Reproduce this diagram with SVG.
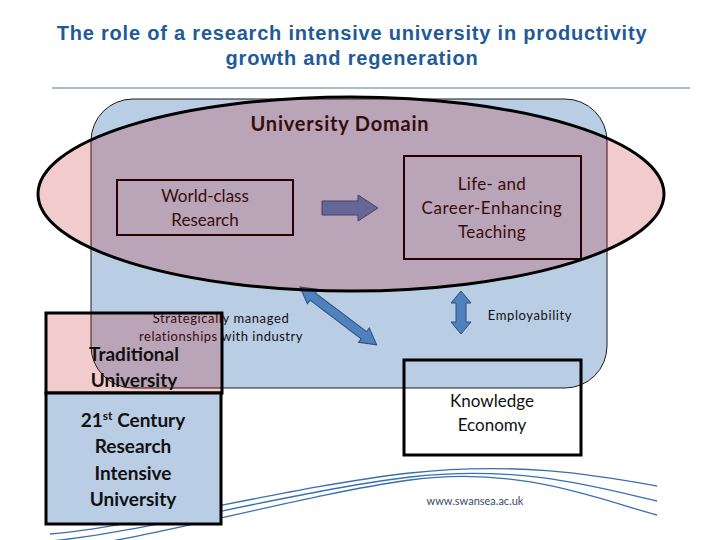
<svg xmlns="http://www.w3.org/2000/svg" width="720" height="540" viewBox="0 0 720 540">
<defs>
<style>
.title{font-family:"Liberation Sans",Arial,sans-serif;font-size:20px;font-weight:bold;letter-spacing:0.8px;fill:#1f5a99;text-anchor:middle}
.body{font-family:Lato,"Noto Sans",sans-serif;fill:#111;text-anchor:middle}
.box{fill:none;stroke:#000;stroke-width:2}
.thick{stroke:#000;stroke-width:3}
.arrow{fill:#4f81bd;stroke:#2f4f7a;stroke-width:1}
.swoosh{fill:none;stroke:#3a6fb0;stroke-width:1.3}
</style>
</defs>
<rect width="720" height="540" fill="#fff"/>
<g id="title">
<text class="title" x="352" y="40">The role of a research intensive university in productivity</text>
<text class="title" x="352" y="65">growth and regeneration</text>
<line x1="52" y1="88" x2="690" y2="88" stroke="#5a7a9a" stroke-width="1"/>
</g>
<g id="swoosh">
<path class="swoosh" d="M50,534 C130,528 300,485 410,473 S600,476 657,486"/>
<path class="swoosh" d="M50,541 C130,535 300,490 410,477 S600,488 657,501"/>
<path class="swoosh" d="M60,548 C140,542 300,495 410,480 S600,500 657,515"/>
</g>
<g id="domain">
<rect x="91" y="99" width="516" height="289" rx="42" ry="42" fill="#b9cde5" stroke="#1a1a1a" stroke-width="1"/>
</g>
<g id="research">
<rect class="box" x="117" y="180" width="176" height="55"/>
<text class="body" x="205" y="202" font-size="17">World-class</text>
<text class="body" x="205" y="226" font-size="17">Research</text>
</g>
<g id="teaching">
<rect class="box" x="404" y="156" width="177" height="103"/>
<text class="body" x="492" y="190" font-size="17" letter-spacing="0.3">Life- and</text>
<text class="body" x="492" y="214" font-size="17" letter-spacing="0.5">Career-Enhancing</text>
<text class="body" x="492" y="238" font-size="17" letter-spacing="0.3">Teaching</text>
</g>
<g id="domain-label">
<text class="body" x="340" y="131" font-size="20" font-weight="bold" letter-spacing="0.8">University Domain</text>
</g>
<g id="connectors">
<polygon class="arrow" points="322,201 358,201 358,195 378,208 358,221 358,215 322,215"/>
<polygon class="arrow" transform="translate(300,287) rotate(37)" points="0,0 16,-9 16,-4.5 80,-4.5 80,-9 96,0 80,9 80,4.5 16,4.5 16,9"/>
<polygon class="arrow" points="461,291 471,303 466,303 466,322 471,322 461,334 451,322 456,322 456,303 451,303"/>
</g>
<g id="ellipse">
<ellipse cx="351" cy="194" rx="313" ry="97" fill="#c00000" fill-opacity="0.2" stroke="#000" stroke-width="3"/>
</g>
<g id="labels">
<text class="body" x="221" y="323" font-size="13" letter-spacing="0.6" fill="#1a1a1a">Strategically managed</text>
<text class="body" x="221" y="341" font-size="13" letter-spacing="0.5" fill="#1a1a1a">relationships with industry</text>
<text class="body" x="530" y="320" font-size="13" letter-spacing="0.6" fill="#1a1a1a">Employability</text>
</g>
<g id="traditional">
<rect x="46" y="313" width="176" height="80" fill="#c00000" fill-opacity="0.2" class="thick"/>
<text class="body" x="134" y="361" font-size="19" font-weight="bold">Traditional</text>
<text class="body" x="134" y="387" font-size="19" font-weight="bold">University</text>
</g>
<g id="century">
<rect x="46" y="393" width="175" height="131" fill="#b9cde5" class="thick"/>
<text class="body" x="133" y="427" font-size="19" font-weight="bold">21<tspan font-size="12" dy="-7">st</tspan><tspan dy="7"> Century</tspan></text>
<text class="body" x="133" y="453" font-size="19" font-weight="bold">Research</text>
<text class="body" x="133" y="480" font-size="19" font-weight="bold">Intensive</text>
<text class="body" x="133" y="506" font-size="19" font-weight="bold">University</text>
</g>
<g id="knowledge">
<rect x="404" y="360" width="177" height="95" fill="none" class="thick"/>
<text class="body" x="492" y="407" font-size="17">Knowledge</text>
<text class="body" x="492" y="431" font-size="17">Economy</text>
</g>
<g id="url">
<text x="475" y="505" font-family="Lato,'Noto Sans',sans-serif" font-size="11" fill="#3a4a6a" text-anchor="middle">www.swansea.ac.uk</text>
</g>
</svg>
